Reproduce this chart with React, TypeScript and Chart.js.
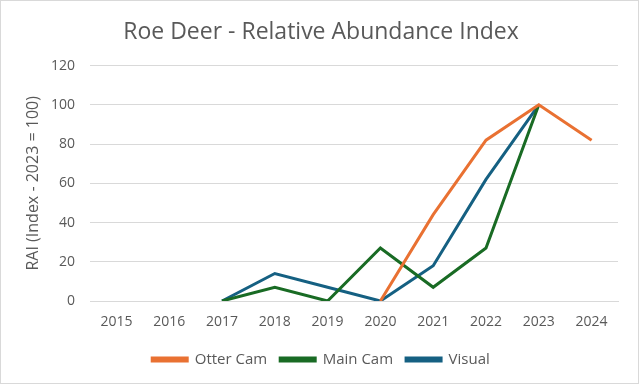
import React, { useEffect, useRef } from "react";
import { Chart, registerables } from "chart.js";

Chart.register(...registerables);

const years = ["2015", "2016", "2017", "2018", "2019", "2020", "2021", "2022", "2023", "2024"];
const otterCam = [null, null, null, null, null, 0, 44, 82, 100, 82];
const mainCam = [null, null, 0, 7, 0, 27, 7, 27, 100, null];
const visual = [null, null, 0, 14, 7, 0, 18, 62, 100, null];

const textColor = "#595959";
const gridColor = "#d9d9d9";
const fam = "Open Sans";

export default function App() {
  const ref = useRef<HTMLCanvasElement | null>(null);
  useEffect(() => {
    document.body.style.margin = "0";
    const ctx = ref.current!;
    const mk = (label: string, data: (number | null)[], color: string) => ({
      label,
      data,
      borderColor: color,
      backgroundColor: color,
      borderWidth: 3,
      pointRadius: 0,
      tension: 0,
      spanGaps: false,
    });
    const chart = new Chart(ctx, {
      type: "line",
      data: {
        labels: years,
        datasets: [
          mk("Otter Cam", otterCam, "#E97132"),
          mk("Main Cam", mainCam, "#196B24"),
          mk("Visual", visual, "#156082"),
        ],
      },
      options: {
        animation: false,
        responsive: true,
        maintainAspectRatio: false,
        layout: { padding: { left: 23, right: 20, top: 10, bottom: 6 } },
        plugins: {
          title: {
            display: true,
            text: "Roe Deer - Relative Abundance Index",
            color: textColor,
            font: { family: fam, size: 23, weight: "normal" },
            padding: { top: 8, bottom: 19 },
          },
          legend: {
            position: "bottom",
            labels: {
              color: textColor,
              font: { family: fam, size: 15 },
              boxWidth: 35,
              boxHeight: 3,
              padding: 13,
            },
          },
          tooltip: { enabled: false },
        },
        scales: {
          x: {
            offset: true,
            grid: { display: false, drawTicks: false },
            border: { display: true, color: gridColor },
            ticks: { color: textColor, font: { family: fam, size: 14 }, padding: 13 },
            afterFit: (s: any) => {
              s.height = 38;
            },
          },
          y: {
            min: 0,
            max: 120,
            grid: { color: gridColor, drawTicks: false },
            border: { display: false },
            ticks: { stepSize: 20, color: textColor, font: { family: fam, size: 14 }, padding: 15 },
            title: {
              display: true,
              text: "RAI (Index - 2023 = 100)",
              color: textColor,
              font: { family: fam, size: 16 },
              padding: { top: 0, bottom: 0 },
            },
            afterFit: (s: any) => {
              s.width = 66;
            },
          },
        },
      },
    });
    return () => chart.destroy();
  }, []);
  return (
    <div
      style={{
        position: "relative",
        width: 639,
        height: 384,
        border: "1px solid #d9d9d9",
        boxSizing: "border-box",
        background: "#fff",
      }}
    >
      <canvas ref={ref} />
    </div>
  );
}
